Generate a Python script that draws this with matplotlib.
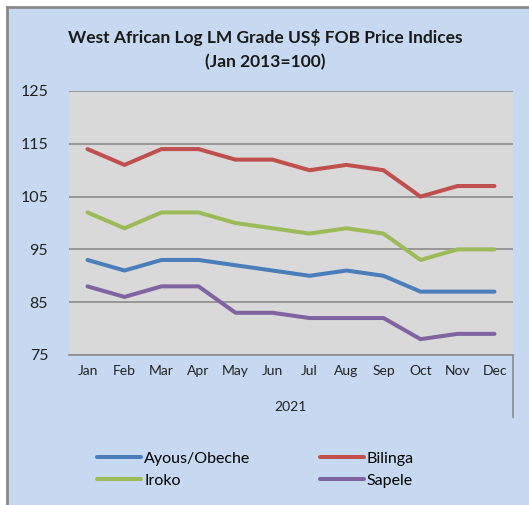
import matplotlib
matplotlib.use("Agg")
import matplotlib.pyplot as plt
from matplotlib.lines import Line2D

plt.rcParams['font.family'] = ['Lato', 'DejaVu Sans']

months = ["Jan", "Feb", "Mar", "Apr", "May", "Jun", "Jul", "Aug", "Sep", "Oct", "Nov", "Dec"]
ayous = [93, 91, 93, 93, 92, 91, 90, 91, 90, 87, 87, 87]
bilinga = [114, 111, 114, 114, 112, 112, 110, 111, 110, 105, 107, 107]
iroko = [102, 99, 102, 102, 100, 99, 98, 99, 98, 93, 95, 95]
sapele = [88, 86, 88, 88, 83, 83, 82, 82, 82, 78, 79, 79]
yticks = [75, 85, 95, 105, 115, 125]
year_label = "2021"
title = "West African Log LM Grade US$ FOB Price Indices\n(Jan 2013=100)"

W, H = 529, 505
fig = plt.figure(figsize=(W / 100, H / 100), dpi=100)
fig.patch.set_facecolor("#c6d9f1")

# white strips outside the top/left border
fig.add_artist(plt.Rectangle((0, 1 - 7 / H), 1, 7 / H, transform=fig.transFigure,
                             facecolor="white", edgecolor="none", zorder=0))
fig.add_artist(plt.Rectangle((0, 0), 7 / W, 1, transform=fig.transFigure,
                             facecolor="white", edgecolor="none", zorder=0))
fig.add_artist(Line2D([7 / W, 1], [1 - 7 / H, 1 - 7 / H], transform=fig.transFigure,
                      color="#8a8a8a", lw=2, zorder=1))
fig.add_artist(Line2D([7 / W, 7 / W], [0, 1 - 7 / H], transform=fig.transFigure,
                      color="#8a8a8a", lw=2, zorder=1))

left, right, bottom, top = 69, 513, 355, 91
ax = fig.add_axes([left / W, 1 - bottom / H, (right - left) / W, (bottom - top) / H])
ax.set_zorder(2)
ax.set_facecolor("#d9d9d9")

x = list(range(len(months)))
series = [("Ayous/Obeche", ayous, "#4a7ebb"),
          ("Bilinga", bilinga, "#c0504d"),
          ("Iroko", iroko, "#9bbb59"),
          ("Sapele", sapele, "#8064a2")]
lines = {}
for name, vals, col in series:
    ln, = ax.plot(x, vals, color=col, lw=2.9, solid_capstyle="round",
                  solid_joinstyle="round", label=name, zorder=3)
    lines[name] = ln

ax.set_xlim(-0.5, len(months) - 0.5)
ax.set_ylim(75, 125)
ax.set_yticks(yticks)
ax.set_yticklabels([str(v) for v in yticks], fontsize=11.5, color="#222222")
ax.set_xticks(x)
ax.set_xticklabels(months, fontsize=10, color="#222222")
ax.tick_params(axis="y", length=0, pad=15)
ax.tick_params(axis="x", length=0, pad=7)
ax.yaxis.grid(True, color="#8c8c8c", lw=1.2)
ax.set_axisbelow(True)
for s in ["left", "right", "top"]:
    ax.spines[s].set_visible(False)
ax.spines["bottom"].set_color("#8c8c8c")
ax.spines["bottom"].set_linewidth(1.2)

# multi-level category separator on right
fig.add_artist(Line2D([right / W, right / W], [1 - bottom / H, 1 - 417 / H],
                      transform=fig.transFigure, color="#8c8c8c", lw=1.2, zorder=1))

fig.text(290 / W, 1 - 407 / H, year_label, ha="center", va="center", fontsize=10, color="#222222")
fig.text(265 / W, 1 - 49.5 / H, title, ha="center", va="center", fontsize=12.5,
         fontweight="bold", color="#1a1a1a", linespacing=1.55)

handles = [lines["Ayous/Obeche"], lines["Iroko"], lines["Bilinga"], lines["Sapele"]]
leg = fig.legend(handles, [h.get_label() for h in handles], ncol=2,
                 loc="center left", bbox_to_anchor=(97 / W, 1 - 469.5 / H),
                 frameon=False, fontsize=11.5, handlelength=2.75, handletextpad=0.2,
                 columnspacing=4.35, labelspacing=0.5, borderaxespad=0, borderpad=0)

fig.savefig("out.png", dpi=100, facecolor=fig.get_facecolor())
